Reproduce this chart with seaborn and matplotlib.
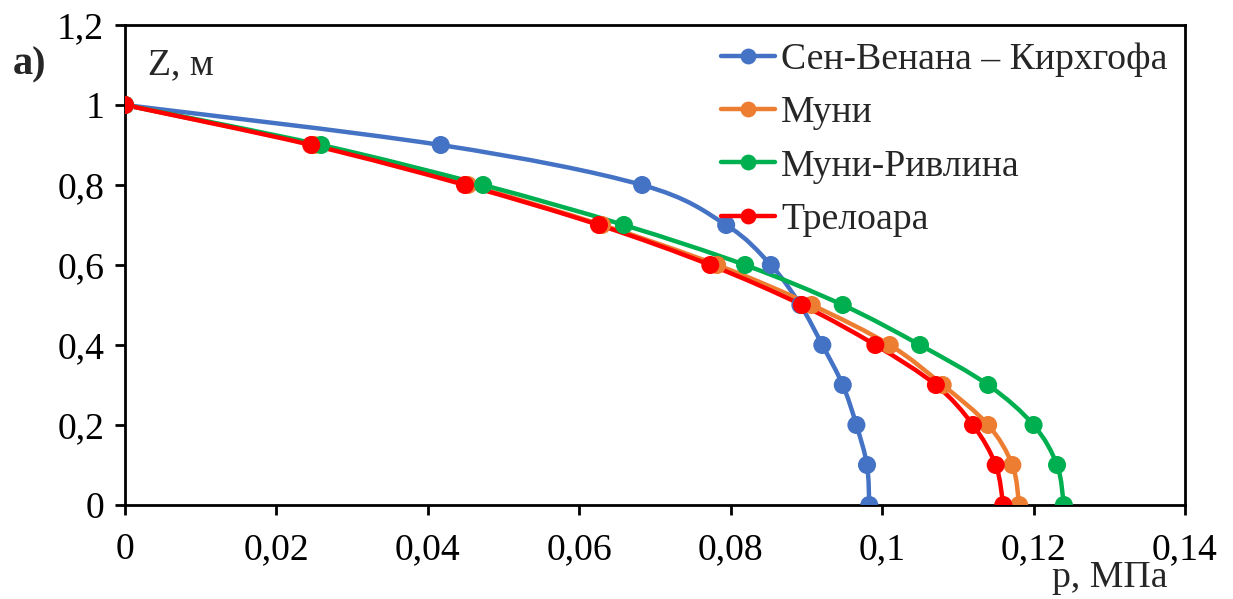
import numpy as np
import pandas as pd
import matplotlib
matplotlib.use("Agg")
import matplotlib.pyplot as plt
from matplotlib.path import Path
from matplotlib.patches import PathPatch
from matplotlib.lines import Line2D
from matplotlib.ticker import FuncFormatter
import seaborn as sns

z = [1.0, 0.9, 0.8, 0.7, 0.6, 0.5, 0.4, 0.3, 0.2, 0.1, 0.0]
p_svk = [0.0, 0.0417, 0.0683, 0.0794, 0.0853, 0.0892, 0.0921, 0.0948, 0.0966, 0.0980, 0.0983]
p_mooney = [0.0, 0.0250, 0.0453, 0.0630, 0.0782, 0.0907, 0.1010, 0.1080, 0.1140, 0.1172, 0.1181]
p_mr = [0.0, 0.0259, 0.0473, 0.0659, 0.0819, 0.0948, 0.1050, 0.1140, 0.1200, 0.1231, 0.1240]
p_treloar = [0.0, 0.0246, 0.0449, 0.0626, 0.0773, 0.0894, 0.0991, 0.1071, 0.1120, 0.1150, 0.1160]

names = ["Сен-Венана – Кирхгофа", "Муни", "Муни-Ривлина", "Трелоара"]
colors = ["#4472C4", "#ED7D31", "#00B050", "#FF0000"]
series = [p_svk, p_mooney, p_mr, p_treloar]

x_ticks = [0, 0.02, 0.04, 0.06, 0.08, 0.1, 0.12, 0.14]
y_ticks = [0, 0.2, 0.4, 0.6, 0.8, 1.0, 1.2]

df = pd.concat([pd.DataFrame({"p": s, "z": z, "model": n}) for s, n in zip(series, names)],
               ignore_index=True)

sns.set_theme(style="white")
plt.rcParams["font.family"] = ["Liberation Serif", "DejaVu Serif"]

fig = plt.figure(figsize=(12.33, 5.99), dpi=100)
ax = fig.add_axes([125/1233, (599-505)/599, 1060/1233, 480/599])

FS = 27.2
LW = 3.2
MS = 13


def smooth_path(xs, ys):
    pts = np.column_stack([xs, ys]).astype(float)
    n = len(pts)
    verts = [pts[0]]
    codes = [Path.MOVETO]
    for i in range(n - 1):
        p0 = pts[i - 1] if i > 0 else pts[i]
        p1 = pts[i]
        p2 = pts[i + 1]
        p3 = pts[i + 2] if i + 2 < n else pts[i + 1]
        c1 = p1 + (p2 - p0) / 6.0
        c2 = p2 - (p3 - p1) / 6.0
        verts += [c1, c2, p2]
        codes += [Path.CURVE4] * 3
    return Path(verts, codes)


for name, col in zip(names, colors):
    sub = df[df["model"] == name]
    patch = PathPatch(smooth_path(sub["p"].values, sub["z"].values), fill=False,
                      edgecolor=col, lw=LW, zorder=2)
    ax.add_patch(patch)
    sns.scatterplot(data=sub, x="p", y="z", color=col, s=MS**2, edgecolor="none",
                    ax=ax, zorder=3, legend=False)

ax.set_xlim(0, 0.14)
ax.set_ylim(0, 1.2)
ax.set_xticks(x_ticks)
ax.set_yticks(y_ticks)
fmt = FuncFormatter(lambda v, pos: ("%g" % round(v, 4)).replace(".", ","))
ax.xaxis.set_major_formatter(fmt)
ax.yaxis.set_major_formatter(fmt)
ax.tick_params(axis="both", direction="out", length=7, width=2, labelsize=FS,
               color="black", labelcolor="black", bottom=True, left=True, pad=8)
ax.tick_params(axis="x", pad=13)
ax.set_xlabel("")
ax.set_ylabel("")
for sp in ax.spines.values():
    sp.set_visible(True)
    sp.set_color("black")
    sp.set_linewidth(2)

ax.text(148/1233, 1 - 65/599, "Z, м", transform=fig.transFigure, fontsize=FS,
        va="center", ha="left")
ax.text(13/1233, 1 - 65/599, "а)", transform=fig.transFigure, fontsize=FS + 2,
        va="center", ha="left", fontweight="bold")
ax.text(1167/1233, 1 - 578/599, "р, МПа", transform=fig.transFigure, fontsize=FS,
        va="center", ha="right")

handles = [Line2D([0], [0], color=c, lw=LW, marker="o", markersize=MS * 0.8,
                  markeredgecolor=c) for c in colors]
leg = ax.legend(handles, names, loc="upper left", bbox_to_anchor=(0.562, 0.964),
                frameon=False, fontsize=FS, handlelength=1.45, handletextpad=0.15,
                labelspacing=0.5, borderpad=0, borderaxespad=0)

fig.savefig("out.png", dpi=100)
